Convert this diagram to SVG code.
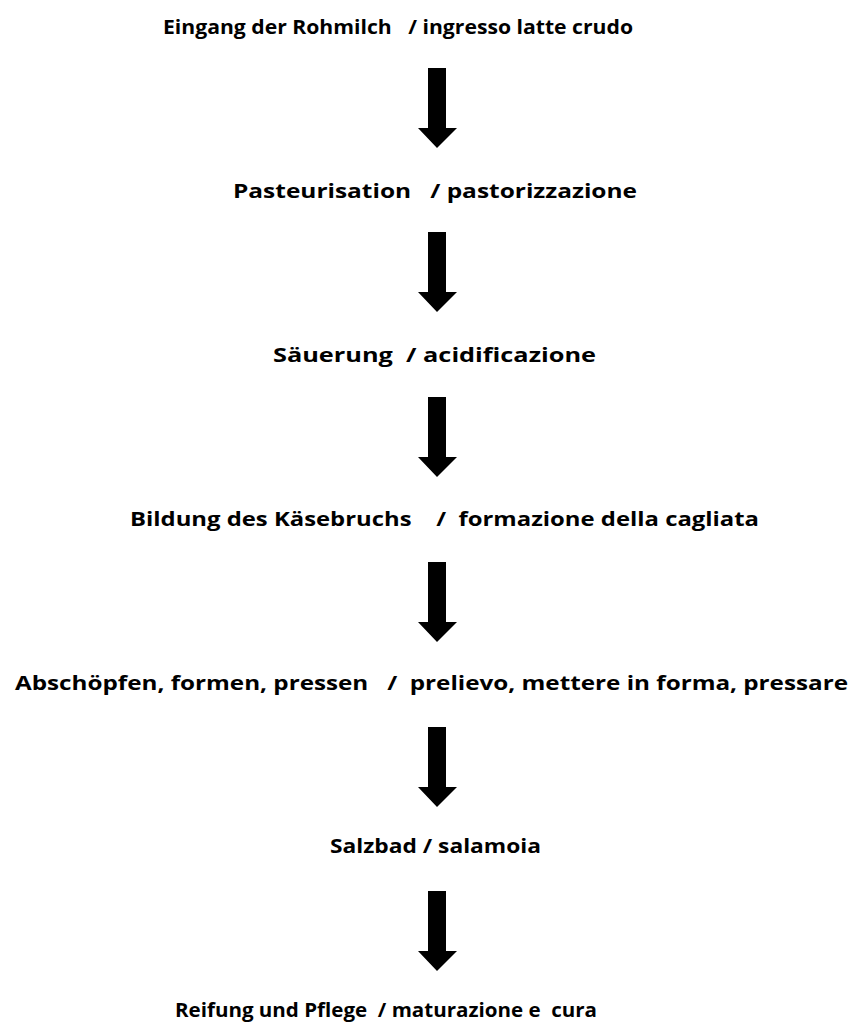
<svg xmlns="http://www.w3.org/2000/svg" width="863" height="1028" viewBox="0 0 863 1028">
<style>
text{font-family:"Open Sans","Liberation Sans",sans-serif;font-weight:bold;font-size:19.5px;fill:#000;white-space:pre}
.arrow{fill:#000}
</style>
<defs>
<path id="arr" d="M428,0 H446 V60 H457 L437,80 L418,60 H428 Z"/>
</defs>
<rect width="863" height="1028" fill="#fff"/>
<g id="n1"><text x="163" y="34" textLength="470" lengthAdjust="spacingAndGlyphs" xml:space="preserve">Eingang der Rohmilch   / ingresso latte crudo</text></g>
<g id="n2"><text x="233" y="198" textLength="404" lengthAdjust="spacingAndGlyphs" xml:space="preserve">Pasteurisation   / pastorizzazione</text></g>
<g id="n3"><text x="273" y="362" textLength="323" lengthAdjust="spacingAndGlyphs" xml:space="preserve">Säuerung  / acidificazione</text></g>
<g id="n4"><text x="130" y="526" textLength="629" lengthAdjust="spacingAndGlyphs" xml:space="preserve">Bildung des Käsebruchs    /  formazione della cagliata</text></g>
<g id="n5"><text x="15" y="690" textLength="833" lengthAdjust="spacingAndGlyphs" xml:space="preserve">Abschöpfen, formen, pressen   /  prelievo, mettere in forma, pressare</text></g>
<g id="n6"><text x="330" y="853" textLength="211" lengthAdjust="spacingAndGlyphs" xml:space="preserve">Salzbad / salamoia</text></g>
<g id="n7"><text x="175" y="1017" textLength="422" lengthAdjust="spacingAndGlyphs" xml:space="preserve">Reifung und Pflege  / maturazione e  cura</text></g>
<g id="connectors" class="arrow">
<use href="#arr" transform="translate(0,68)"/>
<use href="#arr" transform="translate(0,232)"/>
<use href="#arr" transform="translate(0,397)"/>
<use href="#arr" transform="translate(0,562)"/>
<use href="#arr" transform="translate(0,727)"/>
<use href="#arr" transform="translate(0,891)"/>
</g>
</svg>
